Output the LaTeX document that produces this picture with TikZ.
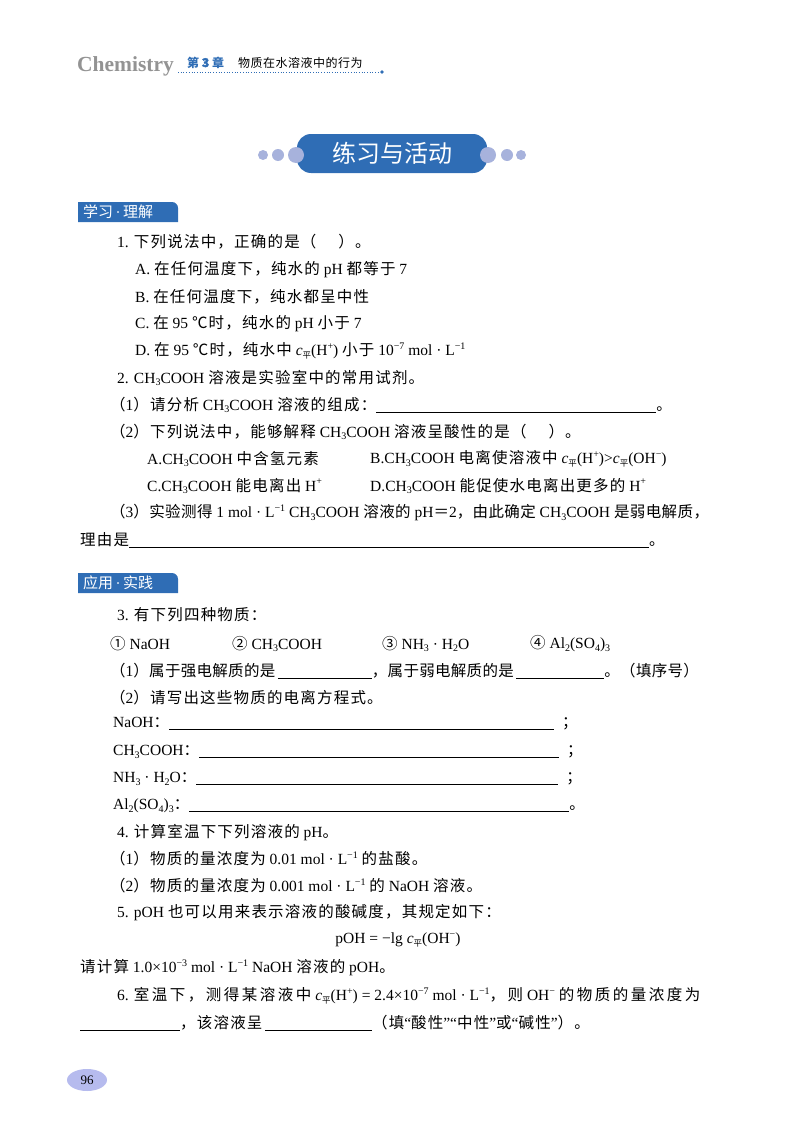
\documentclass[tikz,border=0pt]{standalone}
\usepackage{fontspec}
\setmainfont{Liberation Serif}
\newfontfamily\cjk{Noto Sans CJK SC}
\newfontfamily\cjkb{Noto Sans CJK SC}[FakeBold=3]
\XeTeXinterchartokenstate=1
\newXeTeXintercharclass\cjkclass
\newcount\mycnt
\newdimen\cjkgap \cjkgap=1.2pt
\newcommand{\setgap}[1]{\cjkgap=#1\relax}
\def\setcls#1#2{\mycnt=#1 \loop\XeTeXcharclass\mycnt=\cjkclass \ifnum\mycnt<#2 \advance\mycnt by 1 \repeat}
\setcls{"4E00}{"9FFF}
\setcls{"3000}{"303F}
\setcls{"FF00}{"FF60}
\setcls{"2460}{"24FF}
\setcls{"2100}{"214F}
\XeTeXinterchartoks 0 \cjkclass = {\begingroup\cjk}
\XeTeXinterchartoks 4095 \cjkclass = {\begingroup\cjk}
\XeTeXinterchartoks \cjkclass 0 = {\endgroup}
\XeTeXinterchartoks \cjkclass 4095 = {\endgroup}
\XeTeXinterchartoks \cjkclass \cjkclass = {\kern\cjkgap}
\newcommand{\ssb}[1]{\raisebox{-0.35ex}{\fontsize{10}{10}\selectfont #1}}
\newcommand{\ssp}[1]{\raisebox{0.9ex}{\fontsize{10}{10}\selectfont #1}}
\newcommand{\cp}{\textit{c}\raisebox{-0.35ex}{\fontsize{8.5}{8.5}\selectfont 平}}
\newcommand{\blank}[1]{\rule[-2pt]{#1pt}{0.6pt}}
\definecolor{bblue}{HTML}{2F6DB5}
\definecolor{dotc}{HTML}{A7B2DC}
\begin{document}
\begin{tikzpicture}[x=1pt,y=-1pt,
  txt/.style={anchor=west,inner sep=0pt,font=\fontsize{15.5}{17}\selectfont},
  tab/.style={fill=bblue,rounded corners=5pt,inner sep=0pt}]
\useasboundingbox (0,0) rectangle (800,1132);
% header
\node[anchor=base west,inner sep=0pt,text=gray!85,font=\fontsize{21.5}{21}\selectfont\bfseries] (chem) at (77,71) {Chemistry};
\node[anchor=base west,inner sep=0pt,text=bblue,font=\fontsize{12}{12}\selectfont\bfseries\setgap{0pt}] (ch) at (187,67) {\cjkb 第 3 章};
\node[anchor=base west,inner sep=0pt,font=\fontsize{12}{12}\selectfont\setgap{0.5pt}] (ct) at (238,67) {\cjkb 物质在水溶液中的行为};
\draw[bblue,dotted,line width=0.7pt] (178,72) -- (382,72);
\fill[bblue] (382,72) circle (1.8);
% banner
\fill[bblue] (297,134) [rounded corners=14pt] rectangle (487,173);
\fill[dotc] (263,155) circle (5) (278,155) circle (6) (296,155) circle (8);
\fill[dotc] (521,155) circle (5) (507,155) circle (6) (488,155) circle (8);
\node[text=white,font=\fontsize{24}{24}\selectfont\cjkb\setgap{0pt}] (ban) at (392,153) {练习与活动};
% tabs
\fill[bblue] (78,222) -- (78,202) -- (172,202) to[out=0,in=90] (178,208) -- (178,222) -- cycle;
\node[text=white,font=\fontsize{15}{15}\selectfont\setgap{0pt},anchor=west,inner sep=0pt] (t1) at (83,212) {学习\,·\,理解};
\fill[bblue] (78,593) -- (78,573) -- (172,573) to[out=0,in=90] (178,579) -- (178,593) -- cycle;
\node[text=white,font=\fontsize{15}{15}\selectfont\setgap{0pt},anchor=west,inner sep=0pt] (t2) at (83,583) {应用\,·\,实践};
% section 1
\node[txt] (l1) at (117,242) {1. 下列说法中，正确的是（\hspace{22pt}）。};
\node[txt] (l2) at (135,270) {A. 在任何温度下，纯水的 pH 都等于 7};
\node[txt] (l3) at (135,297) {B. 在任何温度下，纯水都呈中性};
\node[txt] (l4) at (135,324) {C. 在 95 ℃时，纯水的 pH 小于 7};
\node[txt] (l5) at (135,351) {D. 在 95 ℃时，纯水中 \cp(H\ssp{+}) 小于 10\ssp{−7} mol · L\ssp{−1}};
\node[txt] (l6) at (117,378) {2. CH\ssb{3}COOH 溶液是实验室中的常用试剂。};
\node[txt] (l7) at (110,405) {（1）请分析 CH\ssb{3}COOH 溶液的组成：\blank{280}。};
\node[txt] (l8) at (110,432) {（2）下列说法中，能够解释 CH\ssb{3}COOH 溶液呈酸性的是（\hspace{22pt}）。};
\node[txt] (l9a) at (147,459) {A.CH\ssb{3}COOH 中含氢元素};
\node[txt] (l9b) at (370,459) {B.CH\ssb{3}COOH 电离使溶液中 \cp(H\ssp{+})>\cp(OH\ssp{−})};
\node[txt] (l10a) at (147,486) {C.CH\ssb{3}COOH 能电离出 H\ssp{+}};
\node[txt] (l10b) at (370,486) {D.CH\ssb{3}COOH 能促使水电离出更多的 H\ssp{+}};
\node[txt] (l11) at (110,513) {\setgap{0.4pt}（3）实验测得 1 mol · L\ssp{−1} CH\ssb{3}COOH 溶液的 pH＝2，由此确定 CH\ssb{3}COOH 是弱电解质，};
\node[txt] (l12) at (80,540) {理由是\blank{520}。};
% section 2
\node[txt] (m1) at (117,615) {3. 有下列四种物质：};
\node[txt] (m2a) at (110,644) {① NaOH};
\node[txt] (m2b) at (232,644) {② CH\ssb{3}COOH};
\node[txt] (m2c) at (382,644) {③ NH\ssb{3} · H\ssb{2}O};
\node[txt] (m2d) at (530,644) {④ Al\ssb{2}(SO\ssb{4})\ssb{3}};
\node[txt] (m3) at (110,671) {\setgap{0.3pt}（1）属于强电解质的是\,\blank{94}，属于弱电解质的是\,\blank{88}。（填序号）};
\node[txt] (m4) at (110,698) {（2）请写出这些物质的电离方程式。};
\node[txt] (m5) at (113,724) {NaOH：\blank{385}\hspace{8pt}；};
\node[txt] (m6) at (113,752) {CH\ssb{3}COOH：\blank{360}\hspace{8pt}；};
\node[txt] (m7) at (113,779) {NH\ssb{3} · H\ssb{2}O：\blank{362}\hspace{8pt}；};
\node[txt] (m8) at (113,806) {Al\ssb{2}(SO\ssb{4})\ssb{3}：\blank{380}。};
\node[txt] (m9) at (117,833) {4. 计算室温下下列溶液的 pH。};
\node[txt] (m10) at (110,859) {（1）物质的量浓度为 0.01 mol · L\ssp{−1} 的盐酸。};
\node[txt] (m11) at (110,886) {（2）物质的量浓度为 0.001 mol · L\ssp{−1} 的 NaOH 溶液。};
\node[txt] (m12) at (117,913) {5. pOH 也可以用来表示溶液的酸碱度，其规定如下：};
\node[txt,anchor=center] (m13) at (398,940) {pOH = −lg \cp(OH\ssp{−})};
\node[txt] (m14) at (80,968) {请计算 1.0×10\ssp{−3} mol · L\ssp{−1} NaOH 溶液的 pOH。};
\node[txt] (m15) at (117,996) {\setgap{2.5pt}6. 室温下，测得某溶液中 \cp(H\ssp{+}) = 2.4×10\ssp{−7} mol · L\ssp{−1}，则 OH\ssp{−} 的物质的量浓度为};
\node[txt] (m16) at (80,1023) {\blank{100}，该溶液呈\,\blank{107}（填“酸性”“中性”或“碱性”）。};
% page number
\fill[dotc!80!blue!60] (87,1080) ellipse (20 and 11);
\node[font=\fontsize{13}{13}\selectfont] (pg) at (87,1080) {96};
\end{tikzpicture}
\end{document}
